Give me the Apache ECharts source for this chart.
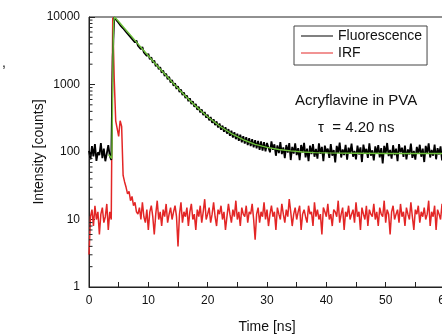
<!DOCTYPE html>
<html>
<head>
<meta charset="utf-8">
<script src="https://cdn.jsdelivr.net/npm/echarts@6/dist/echarts.min.js"></script>
<style>
  html, body { margin: 0; padding: 0; background: #fff; }
  #chart { width: 442px; height: 336px; }
</style>
</head>
<body>
<div id="chart"></div>
<script>
// TCSPC channel width (ns) - both traces sampled on the same grid, starting at 0
const channelNs = 0.25;

// Fluorescence decay counts (black trace), t = 0 .. 60 ns
const fluorescenceCounts = [
  104, 78, 122, 86, 131, 74, 99, 90, 136, 81, 112, 73, 95, 126, 88, 76,
  2600, 9900,
  9700, 8700, 8950, 7600, 7950, 6800, 7100, 6000, 6350, 5350, 5650, 4750, 5050, 4200,
  4500, 3760, 4000, 3330, 3580, 2980, 3190, 2640, 2850, 2360, 2540, 2100, 2270, 1870,
  2020, 1680, 1810, 1490, 1620, 1340, 1450, 1190, 1300, 1070, 1165, 960, 1045, 860,
  940, 775, 845, 698, 762, 628, 690, 566, 624, 512, 566, 466, 514, 422, 468, 385,
  428, 352, 390, 322,
  358, 294, 330, 270, 306, 250, 284, 231, 264, 214, 246, 200, 232, 187, 218, 174,
  206, 164, 196, 155, 187, 146, 180, 139, 172, 133, 166, 127, 160, 122, 155, 117,
  150, 113, 146, 108, 143, 105, 140, 102, 136,
  135, 99, 144, 108, 130, 88, 125, 96, 140, 93, 117, 81, 127, 98, 135, 76,
  119, 95, 134, 90, 114, 76, 127, 98, 137, 83, 112, 73, 124, 93, 131, 85,
  111, 80, 134, 94, 119, 73, 124, 99, 112, 82, 131, 88, 107, 70, 123, 97,
  138, 83, 109, 90, 128, 77, 116, 95, 133, 85, 104, 78, 124, 92, 117, 71,
  129, 97, 111, 82, 134, 88, 106, 75, 121, 94, 126, 83, 114, 68, 123, 95,
  136, 87, 107, 80, 126, 90, 112, 73, 131, 99, 116, 85, 124, 78, 109, 92,
  133, 82, 104, 77, 119, 94, 128, 85, 112, 71, 123, 97, 134, 83, 107, 88,
  129, 78, 114, 92, 121, 75, 117, 95
];

// Instrument response function counts (red trace), t = 0 .. 60 ns
const irfCounts = [
  3, 11, 14, 8, 16, 10, 13, 6, 12, 15, 9, 11, 17, 7, 13, 10,
  9800, 1200, 290, 310, 170, 290, 240, 45, 36, 30, 24, 26, 19, 22, 16, 18, 13,
  12, 15, 10, 18, 11, 9, 14, 7, 13, 16, 11, 6, 12, 19, 10, 13,
  8, 14, 11, 17, 9, 12, 15, 10, 13, 16, 11, 4, 12, 18, 9, 13,
  11, 15, 8, 13, 17, 10, 12, 7, 14, 11, 16, 9, 13, 20, 10, 12,
  15, 9, 12, 18, 11, 8, 14, 12, 16, 10, 13, 7, 11, 17, 12, 9,
  14, 11, 19, 10, 13, 8, 15, 12, 11, 16, 9, 13, 12, 17, 10, 5,
  12, 15, 9, 13, 11, 18, 10, 14, 8, 12, 16, 11, 13, 7, 15, 12,
  10, 17, 12, 9, 14, 11, 20, 13, 8, 12, 15, 10, 13, 16, 7, 12,
  14, 11, 9, 16, 12, 13, 8, 18, 11, 14, 10, 12, 6, 15, 13, 11,
  17, 10, 12, 8, 14, 13, 11, 19, 9, 12, 15, 7, 13, 11, 16, 10,
  12, 14, 9, 18, 11, 13, 7, 15, 12, 10, 16, 8, 14, 12, 11, 17,
  10, 13, 8, 15, 12, 11, 19, 9, 14, 12, 6, 13, 16, 10, 12, 14,
  9, 17, 11, 13, 8, 15, 12, 10, 18, 11, 7, 14, 12, 16, 9, 13,
  11, 15, 10, 12, 19, 8, 13, 11, 16, 7, 14, 12, 10, 17, 11, 13
];

// Mono-exponential fit (green), tau = 4.20 ns
const fitTimes  = [3.3, 3.85, 3.95, 4.05, 4.15, 4.3, 5, 6, 7, 8, 9, 10, 11, 12, 13, 14, 15,
                   16, 17, 18, 19, 20, 22, 24, 26, 28, 30, 32, 34, 36, 38, 40, 45, 50, 55, 60];
const fitCounts = [92, 80, 400, 3000, 8500, 10000, 8560, 6767, 5353, 4239, 3361, 2669, 2124,
                   1694, 1355, 1088, 878, 712, 581, 478, 397, 333, 243, 187, 152, 130, 117,
                   109, 104, 100, 98, 97, 96, 95, 95, 95];

// log-axis minor tick positions (2..9 per decade)
const minorTickValues = [2, 3, 4, 5, 6, 7, 8, 9, 20, 30, 40, 50, 60, 70, 80, 90,
  200, 300, 400, 500, 600, 700, 800, 900, 2000, 3000, 4000, 5000, 6000, 7000, 8000, 9000];

const FONT = 'Liberation Sans, Arial, sans-serif';

const toPoints = (counts) => counts.map((c, i) => [i * channelNs, c]);

const chart = echarts.init(document.getElementById('chart'), null, { renderer: 'canvas' });

const option = {
  animation: false,
  grid: {
    left: 89, top: 17, width: 356, height: 270,
    outerBoundsMode: 'none',
    show: true, borderColor: '#222', borderWidth: 1, backgroundColor: 'transparent'
  },
  legend: {
    orient: 'vertical',
    left: 294, top: 26,
    data: ['Fluorescence', 'IRF'],
    icon: 'rect',
    itemWidth: 32, itemHeight: 1, itemGap: 1,
    padding: [2, 5, 4, 7],
    borderColor: '#444', borderWidth: 1,
    textStyle: { fontFamily: FONT, fontSize: 14, color: '#111', lineHeight: 16 }
  },
  xAxis: {
    type: 'value',
    min: 0, max: 60, interval: 5,
    name: 'Time [ns]',
    nameLocation: 'middle',
    nameGap: 33,
    nameMoveOverlap: false,
    nameTextStyle: { fontFamily: FONT, fontSize: 14, color: '#111' },
    axisLine: { lineStyle: { color: '#222', width: 1 } },
    axisTick: { inside: true, length: 5, lineStyle: { color: '#222' } },
    axisLabel: {
      margin: 8, fontFamily: FONT, fontSize: 12, color: '#111',
      formatter: (v) => (v % 10 === 0 ? String(v) : '')
    },
    splitLine: { show: false }
  },
  yAxis: {
    type: 'log',
    logBase: 10,
    min: 1, max: 10000,
    name: 'Intensity [counts]',
    nameLocation: 'middle',
    nameGap: 43,
    nameMoveOverlap: false,
    nameTextStyle: { fontFamily: FONT, fontSize: 14, color: '#111' },
    axisLine: { show: true, lineStyle: { color: '#222', width: 1 } },
    axisTick: { inside: true, length: 6, lineStyle: { color: '#222' } },
    axisLabel: {
      margin: 9, fontFamily: FONT, fontSize: 12, color: '#111',
      formatter: (v) => String(Math.round(v))
    },
    splitLine: { show: false }
  },
  series: [
    {
      name: 'IRF',
      type: 'line',
      data: toPoints(irfCounts),
      symbol: 'none',
      lineStyle: { color: '#e32626', width: 1.5 },
      itemStyle: { color: '#e32626' },
      z: 2
    },
    {
      name: 'Fluorescence',
      type: 'line',
      data: toPoints(fluorescenceCounts),
      symbol: 'none',
      lineStyle: { color: '#000', width: 1.8 },
      itemStyle: { color: '#000' },
      z: 3
    },
    {
      name: 'Fit',
      type: 'line',
      data: fitTimes.map((t, i) => [t, fitCounts[i]]),
      symbol: 'none',
      lineStyle: { color: '#6cc03a', width: 1.4 },
      itemStyle: { color: '#6cc03a' },
      z: 4
    },
    {
      // minor ticks of the log axis, drawn inward from the y axis
      type: 'custom',
      data: minorTickValues.map((v) => [0, v]),
      silent: true,
      clip: false,
      z: 5,
      renderItem: (params, api) => {
        const p = api.coord([0, api.value(1)]);
        return {
          type: 'line',
          shape: { x1: p[0], y1: p[1], x2: p[0] + 3.5, y2: p[1] },
          style: { stroke: '#222', lineWidth: 1 }
        };
      }
    }
  ],
  graphic: [
    {
      type: 'text', left: 295, top: 93,
      style: { text: 'Acryflavine in PVA', font: '15px ' + FONT, fill: '#111' }
    },
    {
      type: 'text', left: 318, top: 120,
      style: { text: 'τ  = 4.20 ns', font: '15px ' + FONT, fill: '#111' }
    },
    {
      type: 'text', left: 2, top: 56,
      style: { text: ',', font: '14px ' + FONT, fill: '#111' }
    }
  ]
};

chart.setOption(option);
</script>
</body>
</html>
